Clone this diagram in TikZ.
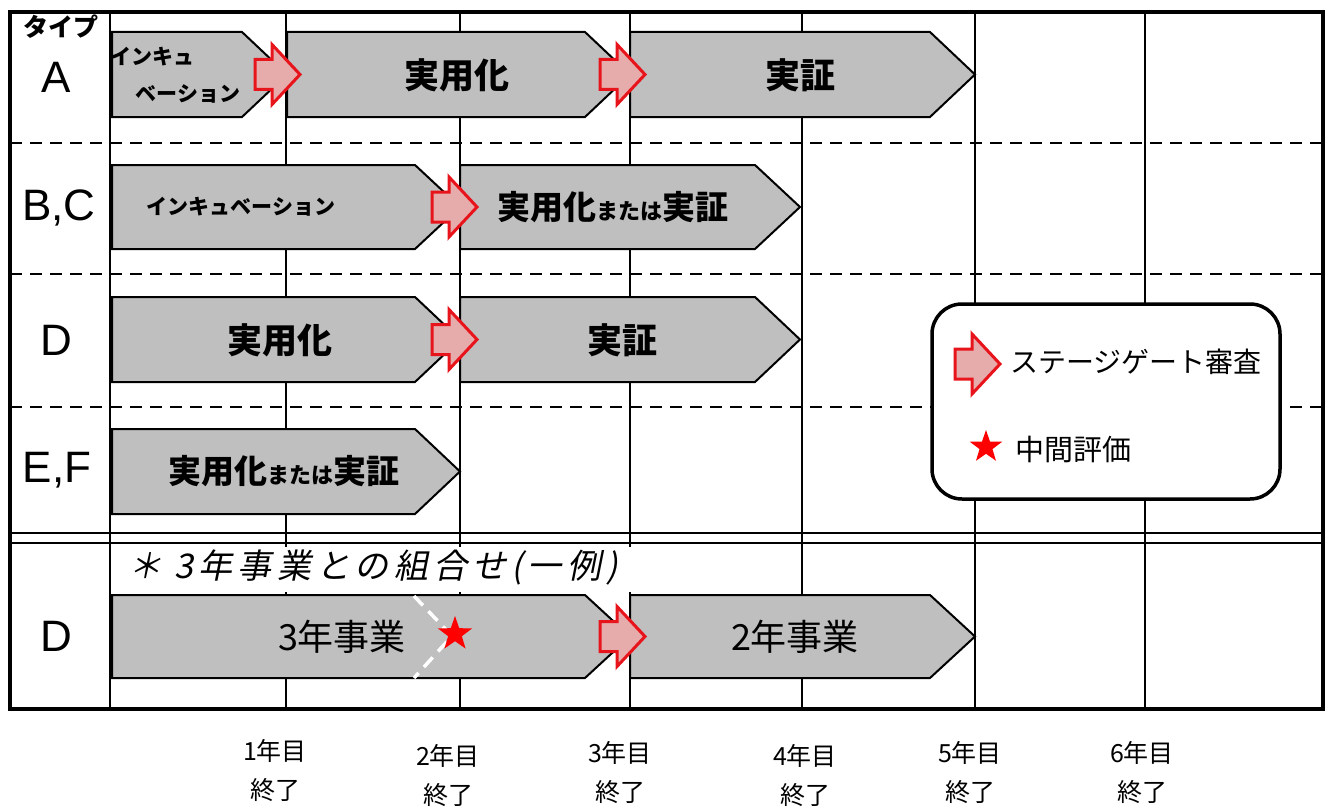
\documentclass[tikz,border=0pt]{standalone}
\usepackage{fontspec}
\setmainfont{Liberation Sans}
\newfontfamily\jp{Noto Sans CJK JP}
\newfontfamily\jpit[FakeSlant=0.2, LetterSpace=15]{Noto Sans CJK JP}
\usetikzlibrary{shapes.geometric}
\definecolor{barfill}{HTML}{BFBFBF}
\definecolor{gatered}{HTML}{E8141B}
\definecolor{gatefill}{HTML}{E6ACAC}
\newcommand\fs[1]{\fontsize{#1}{#1}\selectfont}
\newcommand\chevbar[4]{\draw[barshape] (#1,#3) -- ({#2-45},#3) -- (#2,{(#3+#4)/2}) -- ({#2-45},#4) -- (#1,#4) -- cycle;}
\begin{document}
\begin{tikzpicture}[x=1pt,y=-1pt,
  frameline/.style={line width=4pt},
  gridline/.style={line width=2pt},
  dashline/.style={line width=2.5pt, dash pattern=on 12pt off 8pt},
  barshape/.style={draw=black, line width=2pt, fill=barfill, line join=miter},
  gatestyle/.style={draw=gatered, line width=3pt, fill=gatefill, line join=miter},
  gate/.pic={\path[gatestyle] (-45,-15) -- (-28,-15) -- (-28,-30) -- (0,0) -- (-28,30) -- (-28,15) -- (-45,15) -- cycle;},
  rowlbl/.style={inner sep=0pt, font=\fs{44}},
  barlbl/.style={inner sep=0pt, font=\jp\bfseries\fs{35}},
  mixlbl/.style={inner sep=0pt, font=\jp\bfseries\fs{33}},
  smalllbl/.style={inner sep=0pt, font=\jp\bfseries\fs{21}},
  plainlbl/.style={inner sep=0pt, font=\jp\fs{36}},
  yearlbl/.style={inner sep=0pt, align=center, font=\jp\fontsize{25}{39}\selectfont},
  redstar/.style={star, star points=5, star point ratio=2.5, fill=red, draw=none, inner sep=0pt}
]
\useasboundingbox (0,0) rectangle (1326,808);
% grid
\foreach \xx in {286,460,630,802,975,1145} \draw[gridline] (\xx,12) -- (\xx,709);
\draw[gridline] (110,12) -- (110,709);
\foreach \yy in {143,274,407} \draw[dashline] (10,\yy) -- (1323,\yy);
\draw[gridline] (10,533) -- (1323,533);
\draw[gridline] (10,543) -- (1323,543);
\draw[frameline] (10,12) rectangle (1323,709);
% legend box
\node[draw, line width=3.5pt, rounded corners=30pt, fill=white, minimum width=348pt, minimum height=195pt] (legend) at (1106,401.5) {};
% row A
\chevbar{112}{287}{32}{117}
\chevbar{287}{630}{32}{117}
\chevbar{630}{975}{32}{117}
\pic (gA1) at (300,74.5) {gate};
\pic (gA2) at (645,74.5) {gate};
\node[smalllbl] (a1t) at (152,57) {インキュ};
\node[smalllbl] (a1b) at (188,94) {ベーション};
\node[barlbl] (a2) at (457,75) {実用化};
\node[barlbl] (a3) at (800,75) {実証};
% row BC
\chevbar{112}{460}{165}{249}
\chevbar{460}{800}{165}{249}
\pic (gB1) at (477,207) {gate};
\node[smalllbl] (b1) at (241,207) {インキュベーション};
\node[mixlbl] (b2) at (613,207) {実用化{\fs{22}または}実証};
% row D
\chevbar{112}{460}{297}{382}
\chevbar{460}{800}{297}{382}
\pic (gD1) at (477,339.5) {gate};
\node[barlbl] (d1) at (280,340) {実用化};
\node[barlbl] (d2) at (622,340) {実証};
% row EF
\chevbar{112}{460}{429}{514}
\node[mixlbl] (e1) at (284,471) {実用化{\fs{22}または}実証};
% bottom section
\fill[white] (113,547) rectangle (652,592);
\node[inner sep=0pt, anchor=west, font=\jpit\fs{34}] (title) at (128,567) {＊ 3年事業との組合せ(一例)};
\chevbar{112}{630}{595}{678}
\chevbar{630}{975}{595}{678}
\draw[white, line width=3.5pt, dash pattern=on 13pt off 8pt] (414,596) -- (452,636) -- (414,678);
\node[redstar, minimum size=36pt] (mid) at (455,634) {};
\pic (gE1) at (645,636.5) {gate};
\node[plainlbl] (p3) at (342,637) {3年事業};
\node[plainlbl] (p2) at (795,637) {2年事業};
% row labels
\node[inner sep=0pt, font=\jp\bfseries\fs{25}] (typ) at (61,27) {タイプ};
\node[rowlbl] (rA) at (56,77) {A};
\node[rowlbl] (rB) at (59,208) {B,C};
\node[rowlbl] (rD) at (56,340) {D};
\node[rowlbl] (rE) at (57,470) {E,F};
\node[rowlbl] (rD2) at (56,636) {D};
% legend contents
\pic (lg) at (1000,364) {gate};
\node[inner sep=0pt, anchor=west, font=\jp\fs{28}] (lgt) at (1010,362) {ステージゲート審査};
\node[redstar, minimum size=34pt] (ls) at (986,447) {};
\node[inner sep=0pt, anchor=west, font=\jp\fs{29}] (lst) at (1015,449) {中間評価};
% year labels
\node[yearlbl] (y1) at (275,771) {1年目\\終了};
\node[yearlbl] (y2) at (448,776) {2年目\\終了};
\node[yearlbl] (y3) at (620,773) {3年目\\終了};
\node[yearlbl] (y4) at (805,776) {4年目\\終了};
\node[yearlbl] (y5) at (970,773) {5年目\\終了};
\node[yearlbl] (y6) at (1142,773) {6年目\\終了};
\end{tikzpicture}
\end{document}
